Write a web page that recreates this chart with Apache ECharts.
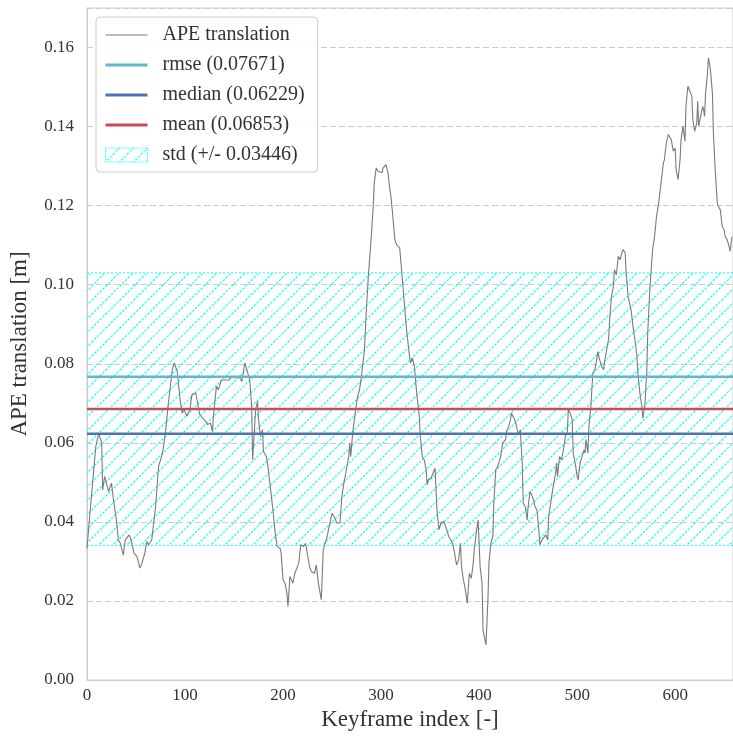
<!DOCTYPE html>
<html>
<head>
<meta charset="utf-8">
<script src="https://cdn.jsdelivr.net/npm/echarts@6/dist/echarts.min.js"></script>
<style>
html,body{margin:0;padding:0;background:#fff;}
#chart{width:733px;height:738px;}
</style>
</head>
<body>
<div id="chart"></div>
<script>
// ---- data ----
var keyframeIdx = [0,3,9,12,15,16,18,20,22,25,27,30,32,34,37,39,43,45,48,51,54,56,59,61,63,66,70,73,77,80,83,87,89,92,95,97,99,102,105,107,111,112,115,117,121,123,126,128,129,132,134,137,141,145,148,151,155,158,161,163,166,168,169,172,174,175,177,179,180,183,185,187,190,192,194,197,198,200,202,204,
205,207,210,212,216,218,221,223,225,227,229,232,234,236,239,241,243,245,247,250,252,255,258,260,262,264,267,268,269,271,274,276,278,280,283,285,287,290,292,293,295,297,299,301,302,305,307,309,310,312,314,316,319,320,322,324,326,329,330,332,334,336,339,340,
342,344,346,347,348,351,353,355,357,359,361,364,366,369,371,373,375,377,379,381,382,384,386,388,390,392,394,395,397,399,401,403,404,406,407,409,410,412,414,415,417,419,421,422,424,427,428,430,432,433,435,437,438,440,442,444,445,447,449,450,452,455,457,459,461,462,464,466,468,470,471,473,475,478,479,480,482,484,486,488,490,491,493,495,496,498,500,501,503,505,507,508,509,511,512,514,516,518,
520,521,523,525,527,528,530,532,533,535,537,538,540,542,544,545,547,549,550,552,554,555,557,559,561,562,564,566,567,569,571,572,574,576,577,579,581,583,584,586,588,589,591,593,594,596,598,600,601,603,605,606,608,610,611,613,615,617,618,620,622,623,624,626,628,629,630,631,633,634,636,638,639,641,643,644,646,648,650,651,653,655,656,658];
var apeValues = [0.0333,0.0422,0.0591,0.0624,0.0599,0.0481,0.0515,0.0515,0.0477,0.0498,0.0456,0.0405,0.0354,0.0346,0.0316,0.0354,0.0367,0.0354,0.0321,0.0312,0.0283,0.0295,0.0321,0.0350,0.0342,0.0354,0.0439,0.0540,0.0574,0.0624,0.0700,0.0785,0.0802,0.0781,0.0709,0.0675,0.0684,0.0667,0.0684,0.0722,0.0726,0.0722,0.0671,0.0667,0.0654,0.0646,0.0650,0.0629,0.0667,0.0743,0.0734,0.0759,0.0759,0.0759,0.0768,0.0764,0.0768,0.0755,0.0802,0.0785,0.0759,0.0692,0.0557,0.0684,0.0705,0.0658,0.0616,0.0633,0.0578,0.0565,0.0532,0.0489,0.0422,0.0371,0.0338,0.0333,0.0321,0.0253,0.0245,0.0219,
0.0186,0.0262,0.0245,0.0270,0.0295,0.0342,0.0338,0.0346,0.0350,0.0287,0.0274,0.0270,0.0291,0.0245,0.0203,0.0329,0.0346,0.0363,0.0388,0.0422,0.0414,0.0397,0.0397,0.0464,0.0498,0.0523,0.0565,0.0599,0.0565,0.0624,0.0684,0.0717,0.0734,0.0768,0.0835,0.0937,0.1021,0.1122,0.1198,0.1257,0.1295,0.1287,0.1291,0.1283,0.1295,0.1304,0.1283,0.1241,0.1224,0.1173,0.1114,0.1101,0.1093,0.1063,0.1004,0.0945,0.0886,0.0819,0.0802,0.0814,0.0793,0.0734,0.0667,0.0616,
0.0565,0.0557,0.0532,0.0494,0.0506,0.0511,0.0515,0.0536,0.0430,0.0380,0.0397,0.0401,0.0388,0.0363,0.0359,0.0346,0.0321,0.0291,0.0304,0.0346,0.0287,0.0253,0.0228,0.0194,0.0270,0.0257,0.0295,0.0329,0.0371,0.0405,0.0287,0.0245,0.0127,0.0131,0.0089,0.0203,0.0295,0.0346,0.0363,0.0447,0.0532,0.0540,0.0557,0.0565,0.0599,0.0608,0.0629,0.0641,0.0658,0.0675,0.0675,0.0654,0.0650,0.0620,0.0633,0.0549,0.0447,0.0439,0.0405,0.0439,0.0477,0.0460,0.0439,0.0430,0.0380,0.0342,0.0354,0.0354,0.0367,0.0354,0.0414,0.0447,0.0481,0.0523,0.0549,0.0515,0.0565,0.0557,0.0582,0.0616,0.0629,0.0684,0.0675,0.0658,0.0574,0.0549,0.0515,0.0506,0.0549,0.0565,0.0582,0.0574,0.0608,0.0574,0.0641,0.0692,0.0776,0.0785,
0.0810,0.0831,0.0810,0.0793,0.0785,0.0806,0.0802,0.0861,0.0903,0.0970,0.0996,0.1038,0.1025,0.1072,0.1063,0.1076,0.1089,0.1080,0.1030,0.0970,0.0966,0.0937,0.0894,0.0861,0.0819,0.0776,0.0726,0.0692,0.0662,0.0692,0.0776,0.0878,0.0979,0.1055,0.1089,0.1122,0.1173,0.1203,0.1207,0.1266,0.1308,0.1316,0.1359,0.1380,0.1384,0.1367,0.1338,0.1346,0.1291,0.1266,0.1316,0.1367,0.1401,0.1363,0.1451,0.1502,0.1506,0.1477,0.1418,0.1388,0.1409,0.1464,0.1401,0.1401,0.1451,0.1443,0.1426,0.1485,0.1536,0.1574,0.1544,0.1485,0.1384,0.1283,0.1207,0.1198,0.1190,0.1148,0.1139,0.1122,0.1114,0.1097,0.1084,0.1122];
var statNames = ['rmse', 'median', 'mean'];
var statValues = [0.07671, 0.06229, 0.06853];
var stdValue = 0.03446;
var yTicks = [0, 0.02, 0.04, 0.06, 0.08, 0.10, 0.12, 0.14, 0.16];
var xTicks = [0, 100, 200, 300, 400, 500, 600];
var xMax = 659;
var yMax = 0.17;

// ---- styling ----
var FONT = 'Liberation Serif';
var TXT = '#333333';
var statColors = ['#64b5cd', '#4c72b0', '#c44e52'];
var CYAN = '#00ffff';

function hatch() {
  var s = 14;
  var c = document.createElement('canvas');
  c.width = s; c.height = s;
  var g = c.getContext('2d');
  g.strokeStyle = CYAN;
  g.lineWidth = 1.2;
  g.setLineDash([2.5, 1.5]);
  [-s, 0, s].forEach(function (o) {
    g.beginPath();
    g.moveTo(o - 1, s + 1);
    g.lineTo(o + s + 1, -1);
    g.stroke();
  });
  return { image: c, repeat: 'repeat' };
}
var hatchPattern = hatch();

var apeData = keyframeIdx.map(function (x, i) { return [x, apeValues[i]]; });
var meanVal = statValues[2];
var stdName = 'std (+/- ' + stdValue.toFixed(5) + ')';

var series = [{
  name: 'APE translation',
  type: 'line',
  data: apeData,
  symbol: 'none',
  z: 3,
  lineStyle: { color: '#7a7a7a', width: 1.1 },
  itemStyle: { color: '#7a7a7a' }
}];
statNames.forEach(function (n, i) {
  series.push({
    name: n + ' (' + statValues[i].toFixed(5) + ')',
    type: 'line',
    data: [[xTicks[0], statValues[i]], [xMax, statValues[i]]],
    symbol: 'none',
    z: 4,
    silent: true,
    lineStyle: { color: statColors[i], width: 2.5 },
    itemStyle: { color: statColors[i] }
  });
});
series.push({
  name: stdName,
  type: 'custom',
  z: 2,
  silent: true,
  itemStyle: { color: CYAN },
  data: [[xTicks[0], meanVal - stdValue, xMax, meanVal + stdValue]],
  encode: { x: [0, 2], y: [1, 3] },
  renderItem: function (params, api) {
    var p0 = api.coord([api.value(0), api.value(3)]);
    var p1 = api.coord([api.value(2), api.value(1)]);
    return {
      type: 'group',
      children: [{
        type: 'rect',
        shape: { x: p0[0], y: p0[1], width: p1[0] - p0[0], height: p1[1] - p0[1] },
        style: { fill: hatchPattern, stroke: null }
      }, {
        type: 'line',
        shape: { x1: p0[0], y1: p0[1], x2: p1[0], y2: p0[1] },
        style: { stroke: CYAN, lineWidth: 1, lineDash: [2, 2] }
      }, {
        type: 'line',
        shape: { x1: p0[0], y1: p1[1], x2: p1[0], y2: p1[1] },
        style: { stroke: CYAN, lineWidth: 1, lineDash: [2, 2] }
      }]
    };
  }
});

var legendData = [{ name: 'APE translation', lineStyle: { width: 1.1 } }];
statNames.forEach(function (n, i) {
  legendData.push({ name: series[i + 1].name, lineStyle: { width: 3 } });
});
legendData.push({ name: stdName, icon: 'rect',
  itemStyle: { opacity: 1, color: hatchPattern, borderColor: CYAN, borderWidth: 1, borderType: 'dotted' } });

var chart = echarts.init(document.getElementById('chart'), null, { renderer: 'canvas' });
chart.setOption({
  animation: false,
  backgroundColor: '#ffffff',
  textStyle: { fontFamily: FONT },
  grid: {
    left: 86, top: 8, width: 648, height: 672,
    show: true, borderColor: '#cccccc', borderWidth: 1, backgroundColor: 'transparent'
  },
  legend: {
    orient: 'vertical',
    left: 96, top: 17,
    padding: [8, 13, 7, 8],
    itemWidth: 42, itemHeight: 14, itemGap: 10,
    backgroundColor: 'rgba(255,255,255,0.85)',
    borderColor: '#cccccc', borderWidth: 1, borderRadius: 4,
    itemStyle: { opacity: 0 },
    textStyle: { fontFamily: FONT, fontSize: 20, color: TXT, padding: [0, 0, 0, 10] },
    data: legendData
  },
  xAxis: {
    type: 'value',
    min: xTicks[0], max: xMax, interval: xTicks[1] - xTicks[0],
    name: 'Keyframe index [-]',
    nameLocation: 'middle', nameGap: 28,
    nameTextStyle: { fontFamily: FONT, fontSize: 23, color: TXT },
    axisLine: { show: true, lineStyle: { color: '#cccccc', width: 1 } },
    axisTick: { show: false },
    splitLine: { show: false },
    axisLabel: { fontFamily: FONT, fontSize: 17, color: TXT, margin: 7, showMaxLabel: false }
  },
  yAxis: {
    type: 'value',
    min: yTicks[0], max: yMax, interval: yTicks[1] - yTicks[0],
    name: 'APE translation [m]',
    nameLocation: 'middle', nameGap: 56,
    nameTextStyle: { fontFamily: FONT, fontSize: 23, color: TXT },
    axisLine: { show: true, lineStyle: { color: '#cccccc', width: 1 } },
    axisTick: { show: false },
    splitLine: { show: true, lineStyle: { color: '#cccccc', width: 1, type: [6, 3] } },
    axisLabel: { fontFamily: FONT, fontSize: 17, color: TXT, margin: 13, showMaxLabel: false,
      formatter: function (v) { return v.toFixed(2); } }
  },
  series: series
});
</script>
</body>
</html>
